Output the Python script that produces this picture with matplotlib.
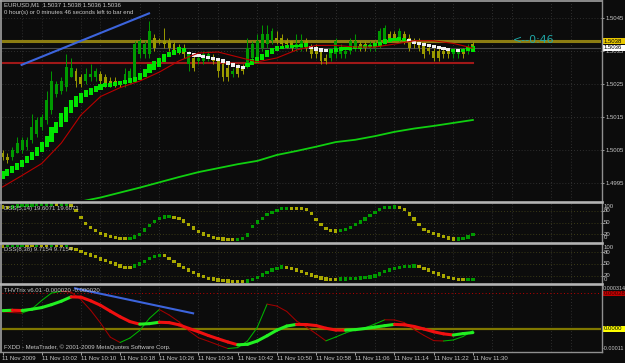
import numpy as np
import matplotlib
matplotlib.use('Agg')
import matplotlib.pyplot as plt
from matplotlib.collections import LineCollection
from matplotlib.lines import Line2D
from matplotlib.patches import Rectangle
from matplotlib.transforms import blended_transform_factory

# EURUSD M1, bar 0 = 11 Nov 2009 09:54, one bar per minute
open_ = [1.5004, 1.5003, 1.5003, 1.5004, 1.5005, 1.5006, 1.5008, 1.5010, 1.5012, 1.5014,
         1.5017, 1.5022, 1.5023, 1.5024, 1.5027, 1.5029, 1.5027, 1.5026, 1.5027, 1.5027,
         1.5028, 1.5027, 1.5026, 1.5026, 1.5026, 1.5025, 1.5026, 1.5027, 1.5034, 1.5034,
         1.5034, 1.5039, 1.5038, 1.5038, 1.5038, 1.5037, 1.5036, 1.5036, 1.5031, 1.5033,
         1.5032, 1.5032, 1.5033, 1.5033, 1.5032, 1.5031, 1.5030, 1.5028, 1.5030, 1.5030,
         1.5031, 1.5033, 1.5033, 1.5036, 1.5037, 1.5038, 1.5039, 1.5039, 1.5038, 1.5038,
         1.5036, 1.5036, 1.5038, 1.5036, 1.5036, 1.5035, 1.5033, 1.5033, 1.5034, 1.5034,
         1.5034, 1.5035, 1.5036, 1.5037, 1.5037, 1.5036, 1.5036, 1.5037, 1.5038, 1.5040,
         1.5040, 1.5039, 1.5040, 1.5039, 1.5038, 1.5038, 1.5037, 1.5036, 1.5035, 1.5035,
         1.5035, 1.5035, 1.5034, 1.5034, 1.5035, 1.5035, 1.5037]
high = [1.5005, 1.5004, 1.5006, 1.5009, 1.5009, 1.5009, 1.5016, 1.5015, 1.5016, 1.5023,
        1.5029, 1.5026, 1.5027, 1.5034, 1.5033, 1.5030, 1.5028, 1.5030, 1.5031, 1.5030,
        1.5029, 1.5028, 1.5027, 1.5027, 1.5026, 1.5030, 1.5030, 1.5038, 1.5039, 1.5038,
        1.5044, 1.5040, 1.5039, 1.5042, 1.5039, 1.5038, 1.5037, 1.5037, 1.5035, 1.5034,
        1.5034, 1.5035, 1.5035, 1.5034, 1.5033, 1.5032, 1.5031, 1.5030, 1.5031, 1.5031,
        1.5039, 1.5038, 1.5040, 1.5043, 1.5043, 1.5042, 1.5041, 1.5040, 1.5039, 1.5038,
        1.5040, 1.5040, 1.5039, 1.5037, 1.5037, 1.5036, 1.5034, 1.5036, 1.5039, 1.5037,
        1.5036, 1.5039, 1.5040, 1.5038, 1.5038, 1.5038, 1.5038, 1.5042, 1.5043, 1.5041,
        1.5041, 1.5042, 1.5041, 1.5040, 1.5039, 1.5039, 1.5038, 1.5037, 1.5036, 1.5036,
        1.5036, 1.5036, 1.5036, 1.5036, 1.5036, 1.5037, 1.5038]
low = [1.5002, 1.5001, 1.5002, 1.5004, 1.5004, 1.5005, 1.5007, 1.5009, 1.5011, 1.5013,
       1.5016, 1.5021, 1.5022, 1.5023, 1.5027, 1.5024, 1.5024, 1.5025, 1.5026, 1.5026,
       1.5025, 1.5024, 1.5024, 1.5024, 1.5024, 1.5024, 1.5025, 1.5026, 1.5033, 1.5033,
       1.5033, 1.5035, 1.5037, 1.5036, 1.5035, 1.5034, 1.5034, 1.5033, 1.5029, 1.5029,
       1.5031, 1.5031, 1.5032, 1.5031, 1.5027, 1.5026, 1.5026, 1.5027, 1.5027, 1.5028,
       1.5030, 1.5032, 1.5032, 1.5035, 1.5036, 1.5037, 1.5037, 1.5036, 1.5036, 1.5035,
       1.5035, 1.5035, 1.5035, 1.5033, 1.5033, 1.5031, 1.5031, 1.5032, 1.5033, 1.5033,
       1.5033, 1.5034, 1.5035, 1.5035, 1.5035, 1.5035, 1.5035, 1.5036, 1.5037, 1.5038,
       1.5038, 1.5038, 1.5037, 1.5035, 1.5036, 1.5035, 1.5033, 1.5034, 1.5032, 1.5032,
       1.5033, 1.5033, 1.5033, 1.5033, 1.5033, 1.5034, 1.5036]
close = [1.5003, 1.5002, 1.5005, 1.5007, 1.5008, 1.5008, 1.5012, 1.5014, 1.5015, 1.5020,
         1.5026, 1.5025, 1.5026, 1.5030, 1.5030, 1.5026, 1.5025, 1.5028, 1.5028, 1.5029,
         1.5026, 1.5025, 1.5025, 1.5025, 1.5025, 1.5028, 1.5029, 1.5037, 1.5038, 1.5037,
         1.5041, 1.5036, 1.5038, 1.5037, 1.5036, 1.5035, 1.5035, 1.5034, 1.5034, 1.5030,
         1.5033, 1.5034, 1.5034, 1.5032, 1.5029, 1.5027, 1.5027, 1.5029, 1.5028, 1.5029,
         1.5036, 1.5037, 1.5038, 1.5040, 1.5040, 1.5041, 1.5038, 1.5037, 1.5037, 1.5036,
         1.5037, 1.5038, 1.5036, 1.5034, 1.5034, 1.5032, 1.5032, 1.5035, 1.5038, 1.5036,
         1.5035, 1.5038, 1.5038, 1.5036, 1.5036, 1.5037, 1.5037, 1.5041, 1.5042, 1.5039,
         1.5039, 1.5041, 1.5038, 1.5036, 1.5037, 1.5036, 1.5034, 1.5035, 1.5033, 1.5033,
         1.5034, 1.5034, 1.5035, 1.5035, 1.5034, 1.5036, 1.5036]

# heiken ashi style bodies
ha_open = [1.49961, 1.49971, 1.49981, 1.49989, 1.49999, 1.50010, 1.50020, 1.50032, 1.50045, 1.50060,
           1.50075, 1.50102, 1.50119, 1.50136, 1.50161, 1.50181, 1.50193, 1.50212, 1.50217, 1.50227,
           1.50232, 1.50240, 1.50242, 1.50245, 1.50247, 1.50250, 1.50254, 1.50257, 1.50262, 1.50272,
           1.50282, 1.50292, 1.50302, 1.50318, 1.50331, 1.50338, 1.50343, 1.50348, 1.50348, 1.50345,
           1.50341, 1.50338, 1.50335, 1.50333, 1.50330, 1.50325, 1.50320, 1.50313, 1.50308, 1.50305,
           1.50302, 1.50308, 1.50314, 1.50322, 1.50332, 1.50342, 1.50351, 1.50356, 1.50358, 1.50360,
           1.50361, 1.50362, 1.50363, 1.50365, 1.50363, 1.50358, 1.50355, 1.50345, 1.50348, 1.50351,
           1.50353, 1.50353, 1.50355, 1.50357, 1.50359, 1.50361, 1.50363, 1.50365, 1.50371, 1.50378,
           1.50381, 1.50381, 1.50381, 1.50385, 1.50381, 1.50378, 1.50375, 1.50371, 1.50368, 1.50365,
           1.50361, 1.50358, 1.50348, 1.50355, 1.50347, 1.50351, 1.50348]
ha_close = [1.49986, 1.49992, 1.50002, 1.50010, 1.50020, 1.50032, 1.50044, 1.50058, 1.50075, 1.50093,
            1.50119, 1.50136, 1.50161, 1.50181, 1.50202, 1.50214, 1.50222, 1.50232, 1.50237, 1.50244,
            1.50249, 1.50252, 1.50254, 1.50257, 1.50259, 1.50262, 1.50267, 1.50272, 1.50284, 1.50295,
            1.50311, 1.50320, 1.50328, 1.50340, 1.50348, 1.50353, 1.50363, 1.50358, 1.50340, 1.50333,
            1.50331, 1.50328, 1.50325, 1.50323, 1.50320, 1.50313, 1.50308, 1.50302, 1.50299, 1.50296,
            1.50315, 1.50325, 1.50332, 1.50342, 1.50352, 1.50360, 1.50364, 1.50366, 1.50367, 1.50368,
            1.50369, 1.50370, 1.50373, 1.50355, 1.50351, 1.50348, 1.50347, 1.50355, 1.50358, 1.50361,
            1.50361, 1.50363, 1.50365, 1.50365, 1.50367, 1.50368, 1.50373, 1.50378, 1.50385, 1.50388,
            1.50388, 1.50391, 1.50388, 1.50378, 1.50371, 1.50368, 1.50365, 1.50361, 1.50358, 1.50355,
            1.50353, 1.50351, 1.50355, 1.50348, 1.50355, 1.50363, 1.50365]

# moving averages, sampled every 4 bars
red_ma_bars = list(range(0, 97, 4))
red_ma = [1.49938, 1.49973, 1.50009, 1.50071, 1.50156, 1.50212, 1.50239, 1.50259, 1.50286,
          1.50320, 1.50344, 1.50347, 1.50332, 1.50317, 1.50329, 1.50353, 1.50367, 1.50367,
          1.50362, 1.50362, 1.50371, 1.50381, 1.50381, 1.50373, 1.50359]
green_ma_bars = list(range(12, 97, 4))
green_ma = [1.49880, 1.49894, 1.49906, 1.49921, 1.49936, 1.49952, 1.49968, 1.49983, 1.49995,
            1.50007, 1.50017, 1.50035, 1.50047, 1.50060, 1.50074, 1.50081, 1.50092, 1.50105,
            1.50115, 1.50123, 1.50132, 1.50141]

dss_fast = [90, 89, 90, 92, 93, 94, 95, 95.5, 96, 96.2,
            97, 96.8, 97, 97.5, 94, 80, 62, 48, 38, 29,
            22, 18, 14, 11, 9, 8.6, 9, 13, 20, 31,
            43, 53, 60, 64, 66, 63, 60, 54, 45, 36,
            27, 20.7, 16.3, 12, 9.5, 8, 6.2, 5.9, 7, 9.5,
            18, 39.5, 51, 61, 69.6, 76.5, 81.6, 85, 86.2, 86,
            85.8, 85.5, 83, 74, 57, 45.5, 35, 29, 28, 29,
            33, 38, 44, 51.5, 59, 68.7, 76.5, 83, 87.6, 89.3,
            89.5, 89.2, 82.5, 72, 59, 44, 33, 27, 22.3, 18,
            13.8, 10.3, 7.6, 7.9, 9.5, 13, 19.6]
dss_slow = [96, 97, 98, 98.5, 99, 98.8, 98.5, 98.7, 98.4, 98.2,
            98.5, 98.3, 98, 98.4, 90, 87.6, 81.5, 77.2, 72.9, 68.6,
            62.6, 58.3, 53.1, 49.7, 44.5, 41.1, 40.2, 44.5, 49.7, 55.7,
            64.4, 68.6, 71.2, 70.8, 64.4, 55.7, 47.1, 40.2, 34.3, 27.4,
            21.4, 17.1, 12.8, 11.1, 8.6, 6.9, 6, 5.2, 4.5, 4.3,
            6, 10.3, 15.4, 21.4, 27.4, 34.3, 38.5, 42, 41.1, 38.5,
            34.3, 30, 25.7, 21.4, 17.1, 13.7, 11.1, 10.3, 10.0, 11.1,
            11.3, 12, 12.8, 13.7, 14.5, 16.2, 18.8, 24, 30, 34.3,
            37.7, 41.1, 42.8, 43.7, 44.5, 42.8, 38.5, 34.3, 28.3, 24,
            18.8, 15.4, 11.5, 9.5, 9.2, 9.4, 9.7]

# THV Trix, sampled every 2 bars
thv_bars = list(range(0, 97, 2))
thv_slow = [0.000144, 0.000147, 0.000145, 0.000155, 0.000168, 0.000191, 0.000218, 0.000252, 0.000250, 0.000221,
            0.000186, 0.000140, 0.000096, 0.000058, 0.000038, 0.000042, 0.000053, 0.000050, 0.000033, 0.000005,
            -0.000022, -0.000051, -0.000077, -0.000102, -0.000124, -0.000120, -0.000094, -0.000053, -0.000009, 0.000023,
            0.000036, 0.000035, 0.000027, 0.000006, -0.000008, -0.000009, -0.000005, 0.000004, 0.000015, 0.000026,
            0.000036, 0.000033, 0.000020, 0.000000, -0.000022, -0.000038, -0.000047, -0.000036, -0.000028]
thv_fast = [0.000135, 0.000129, 0.000125, 0.000157, 0.000224, 0.000282, 0.000296, 0.000289, 0.000231, 0.000147,
            0.000047, -0.000064, -0.000106, -0.000071, -0.000011, 0.000084, 0.000153, 0.000110, 0.000057, -0.000013,
            -0.000069, -0.000096, -0.000125, -0.000153, -0.000146, -0.000094, 0.000013, 0.000195, 0.000180, 0.000138,
            0.000063, 0.000016, -0.000037, -0.000093, -0.000063, -0.000031, -0.000005, 0.000009, 0.000039, 0.000072,
            0.000071, 0.000050, -0.000004, -0.000050, -0.000091, -0.000094, -0.000086, -0.000059, -0.000013]

time_bars = list(range(0, 97, 8))
time_labels = ['11 Nov 2009', '11 Nov 10:02', '11 Nov 10:10', '11 Nov 10:18', '11 Nov 10:26',
               '11 Nov 10:34', '11 Nov 10:42', '11 Nov 10:50', '11 Nov 10:58', '11 Nov 11:06',
               '11 Nov 11:14', '11 Nov 11:22', '11 Nov 11:30']
price_levels = [1.4995, 1.5005, 1.5015, 1.5025, 1.5035, 1.5045]
ask, bid = 1.5038, 1.5036
red_level = 1.50315
trend_main = ([3.9, 29.9], [1.50308, 1.50464])
trend_thv = ([14.8, 38.9], [0.000319, 0.000123])
thv_level = 0.00028

W, H = 625, 363
BG = '#0c0c0c'
TXT = '#c8c8c8'
GRID = '#3a3a3a'
SMALL = ['Liberation Sans Narrow', 'Liberation Sans']
FS = 4.3
X0, X1 = 2, 601          # plotting area, px
BAR0, BARW = 2.5, 4.9    # px of bar 0, px per bar
grid_bars = [b for b in range(0, 123, 4) if b % 12 in (4, 8)]

fig = plt.figure(figsize=(W / 100, H / 100), dpi=100)
fig.patch.set_facecolor(BG)


def panel(top, bottom):
    ax = fig.add_axes([X0 / W, 1 - bottom / H, (X1 - X0) / W, (bottom - top) / H])
    ax.set_facecolor(BG)
    for s in ax.spines.values():
        s.set_visible(False)
    ax.tick_params(left=False, bottom=False, labelleft=False, labelbottom=False)
    ax.set_xlim((X0 - BAR0) / BARW, (X1 - BAR0) / BARW)
    for b in grid_bars:
        ax.axvline(b, color=GRID, lw=0.6, ls=(0, (1, 2.5)), zorder=0)
    return ax


def right_labels(ax, ticks, labels):
    ax.set_yticks(ticks)
    ax.set_yticklabels(labels, fontfamily=SMALL)
    ax.tick_params(axis='y', left=False, labelleft=False, right=True, labelright=True,
                   length=2.2, width=0.7, color='#a0a0a0', labelcolor=TXT, labelsize=FS, pad=1)


def box(ax, y, half, text, fc, tc):
    tr = blended_transform_factory(fig.transFigure, ax.transData)
    ax.add_patch(Rectangle((602.5 / W, y - half), 1 - 602.5 / W, 2 * half, transform=tr,
                           facecolor=fc, edgecolor='none', clip_on=False, zorder=10))
    ax.text(604 / W, y, text, transform=tr, color=tc, fontsize=FS, family=SMALL,
            va='center', ha='left', clip_on=False, zorder=11)


def slope_line(ax, x, y, up, down, lw, z):
    pts = np.column_stack([x, y])
    segs = np.stack([pts[:-1], pts[1:]], axis=1)
    cols = [up if b >= a else down for a, b in zip(y[:-1], y[1:])]
    ax.add_collection(LineCollection(segs, colors=cols, linewidths=lw, zorder=z,
                                     capstyle='round'))


bars = np.arange(len(close))
o, h, l, c = map(np.array, (open_, high, low, close))

# ---- main price panel
ax = panel(3, 200)
ax.set_ylim(1.5045 - 182 / 33000, 1.5045 + 15 / 33000)
for p in price_levels:
    ax.axhline(p, color=GRID, lw=0.6, ls=(0, (1, 2.5)), zorder=0)
right_labels(ax, price_levels, [f'{p:.4f}' for p in price_levels])

ax.plot(green_ma_bars, green_ma, color='#10d010', lw=1.3, zorder=2)
ax.plot([bars[0] - 0.5, bars[-1]], [red_level, red_level], color='#a01818', lw=1.5, zorder=2)
ax.axhline(bid, color='#4a4a4a', lw=0.8, zorder=2)
ax.axhline(ask, color='#8c7d12', lw=2.2, zorder=2)

cc = np.where(c > o, '#009a00', '#9a9a00')
ax.vlines(bars, l, h, colors=cc, lw=0.7, zorder=3)
ax.bar(bars, np.maximum(np.abs(c - o), 0.00003), width=0.6, bottom=np.minimum(o, c),
       color=cc, linewidth=0, zorder=3)

hao, hac = np.array(ha_open), np.array(ha_close)
hcol = np.where(hac >= hao, '#00e400', '#f0f0f0')
ax.bar(bars, np.abs(hac - hao), width=0.82, bottom=np.minimum(hao, hac),
       color=hcol, linewidth=0, zorder=4)

ax.plot(red_ma_bars, red_ma, color='#b80000', lw=0.8, zorder=5)
ax.plot(*trend_main, color='#3c64dc', lw=1.5, zorder=6)

box(ax, ask, 0.00009, f'{ask:.4f}', '#e8c800', '#000000')
box(ax, bid, 0.00009, f'{bid:.4f}', '#ffffff', '#000000')

fig.text(4 / W, 1 - 5 / H, 'EURUSD,M1  1.5037 1.5038 1.5036 1.5036', color=TXT,
         fontsize=FS, family=SMALL, va='center')
fig.text(4 / W, 1 - 12.5 / H, '0 hour(s) or 0 minutes 46 seconds left to bar end',
         color=TXT, fontsize=FS, family=SMALL, va='center')
fig.text(513 / W, 1 - 40 / H, '<--0:46', color='#20a8a8', fontsize=7.9, va='center')

# ---- DSS panels
for top, bottom, vals, label in [(203, 242, dss_fast, 'DSS(5,14) 19.6071 19.6071'),
                                 (244.5, 283.3, dss_slow, 'DSS(8,38) 9.7154 9.7154')]:
    axd = panel(top, bottom)
    axd.set_ylim(0, 100)
    for lvl in (20, 50, 80):
        axd.axhline(lvl, color='#4a4a1a', lw=0.6, ls=(0, (1, 2.5)), zorder=0)
    v = np.array(vals)
    col = ['#9a9a00'] + ['#009a00' if b > a else '#a8a800' for a, b in zip(v[:-1], v[1:])]
    axd.scatter(bars, v, s=5.5, marker='s', c=col, linewidths=0, zorder=3)
    axd.set_yticks([20, 50, 80])
    axd.tick_params(axis='y', right=True, length=2.2, width=0.7, color='#a0a0a0')
    tr = axd.get_yaxis_transform()
    for val, txt in [(91, '100'), (80, '80'), (50, '50'), (20, '20'), (11, '0')]:
        axd.text(1.005, val, txt, transform=tr, color=TXT, fontsize=FS, family=SMALL,
                 va='center', ha='left', clip_on=False)
    fig.text(4 / W, 1 - (top + 5.5) / H, label, color=TXT, fontsize=FS, family=SMALL,
             va='center', zorder=1)

# ---- THV Trix panel
axt = panel(285, 351.5)
axt.set_ylim(-22.5 / 127500, 44 / 127500)
axt.axhline(thv_level, color='#c00000', lw=0.7, ls=(0, (1, 2.5)), zorder=1)
axt.axhline(0, color='#807800', lw=1.6, zorder=1)
slope_line(axt, thv_bars, thv_fast, '#00b400', '#a00000', 0.75, 3)
slope_line(axt, thv_bars, thv_slow, '#22f022', '#f01010', 2.2, 4)
axt.plot(*trend_thv, color='#3c64dc', lw=1.5, zorder=6)
box(axt, thv_level, 0.000021, '0.00028', '#c00000', '#3a0000')
box(axt, 0, 0.000022, '0.0000', '#ffff00', '#000000')
fig.text(602.5 / W, 1 - 288 / H, '0.000314', color=TXT, fontsize=3.9, family=SMALL, va='center')
fig.text(602.5 / W, 1 - 348.5 / H, '-0.00011', color=TXT, fontsize=3.9, family=SMALL, va='center')
fig.text(4 / W, 1 - 290 / H, 'THVTrix v6.01 -0.000020 -0.000020', color=TXT, fontsize=FS,
         family=SMALL, va='center', zorder=1)
fig.text(4 / W, 1 - 347 / H, 'FXDD - MetaTrader, \u00a9 2001-2009 MetaQuotes Software Corp.',
         color=TXT, fontsize=FS, family=SMALL, va='center')

axt.set_xticks(time_bars)
axt.set_xticklabels(time_labels, fontfamily=SMALL)
axt.tick_params(axis='x', bottom=True, labelbottom=True, length=2.2, width=0.7,
                color='#a0a0a0', labelcolor=TXT, labelsize=FS, pad=0.8)
for t in axt.get_xticklabels():
    t.set_ha('left')


# ---- frame and panel separators
def fig_line(xs, ys, color, lw):
    fig.add_artist(Line2D([x / W for x in xs], [1 - y / H for y in ys], color=color, lw=lw))


fig_line([0, 601.5], [1.2, 1.2], '#a0a0a0', 1.2)
fig_line([1, 1], [0, 352], '#a0a0a0', 1.2)
fig_line([601.5, 601.5], [0, 352], '#909090', 1.0)
fig_line([0, 601.5], [351.6, 351.6], '#909090', 1.0)
for y in (201.6, 243.3, 284.1):
    fig_line([0, 601.5], [y, y], '#b4b4b4', 1.9)

fig.savefig('out.png', dpi=100, facecolor=BG)
